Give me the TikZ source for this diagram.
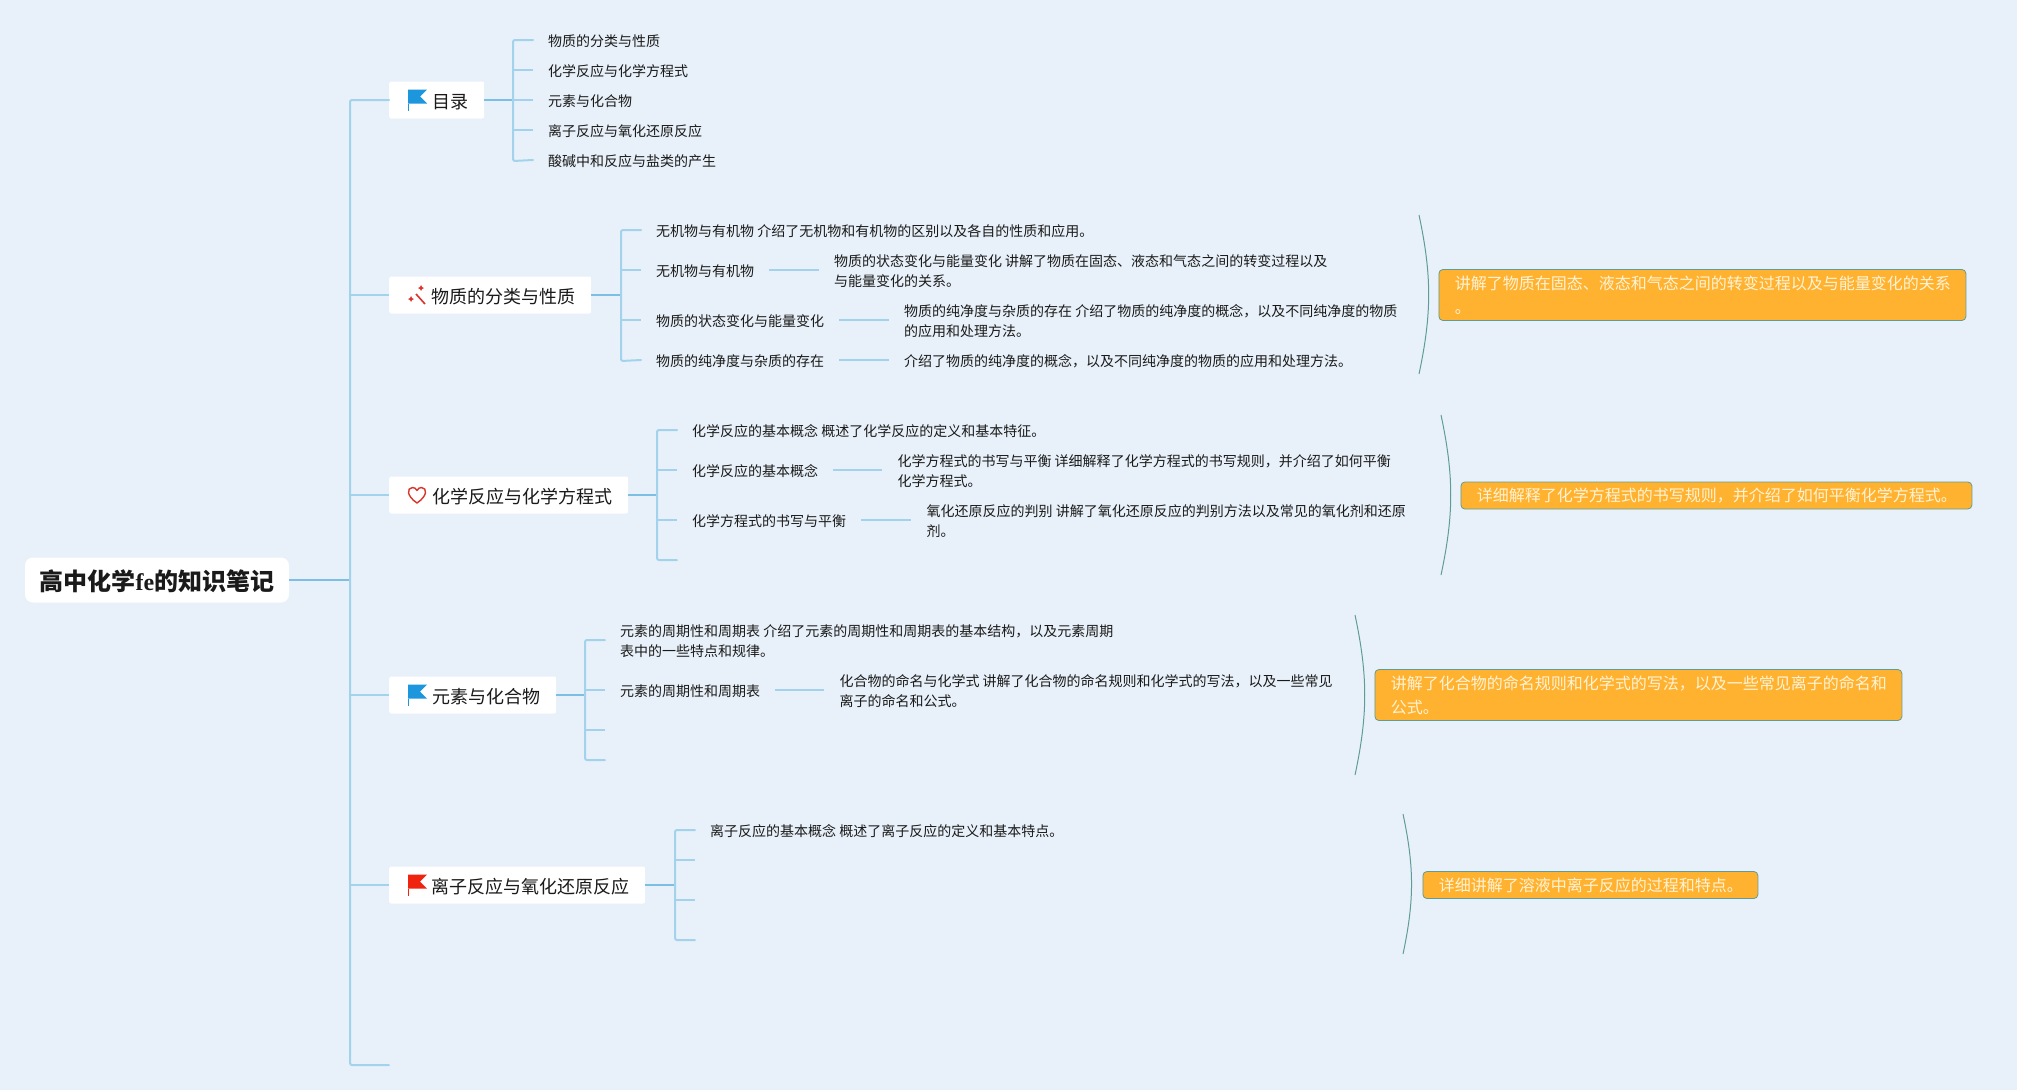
\documentclass[tikz,border=0pt]{standalone}
\usepackage{xcolor}
\usepackage{fontspec}
\setmainfont{Noto Sans CJK SC}
\newfontfamily\latinserif{Liberation Serif}
\usepackage{tikz}
\usetikzlibrary{arrows.meta,positioning,calc}
\definecolor{paper}{HTML}{E8F1F9}
\definecolor{ink}{HTML}{1A1A1A}
\definecolor{wire}{HTML}{A3D3EC}
\definecolor{wiredeep}{HTML}{7DBFE3}
\definecolor{sage}{HTML}{5F9C98}
\definecolor{amber}{HTML}{FFB22F}
\definecolor{cream}{HTML}{FFF3D6}
\definecolor{flagblue}{HTML}{1C96DC}
\definecolor{flagred}{HTML}{F0230F}
\definecolor{wandred}{HTML}{D9352B}
\tikzset{
  rootbox/.style={rectangle, rounded corners=8pt, fill=white, text=ink, inner sep=0pt,
              minimum width=264pt, minimum height=45pt, text height=20pt, text depth=0pt,
              font=\fontsize{24}{30}\selectfont\bfseries},
  topicbox/.style={rectangle, rounded corners=2pt, fill=white, text=ink, anchor=west, inner sep=0pt,
              minimum height=37pt, text height=16pt, text depth=0pt, align=right, font=\fontsize{18}{22}\selectfont},
  leaf/.style={anchor=west, inner sep=0pt, text=ink, align=left, font=\fontsize{14}{20}\selectfont},
  note/.style={rectangle, rounded corners=4pt, draw=sage, fill=amber, line width=0.8pt, text=cream,
              anchor=west, inner sep=0pt, align=left, font=\fontsize{16}{24}\selectfont},
  wirebus/.style={draw=wire, line width=2pt, line cap=round},
  wirefeed/.style={draw=wiredeep, line width=2.6pt},
  twig/.style={draw=wire, line width=2pt},
  hoop/.style={draw=sage, line width=1pt},
  flagicon/.pic={
    \fill[#1] (0,-11) -- (19,-11) -- (12,-4) -- (19,3) -- (0,3) -- cycle;
    \fill[#1] (0,3) rectangle (1.2,10);
  }
}
\begin{document}
\begin{tikzpicture}[x=1pt, y=-1pt]
  \useasboundingbox[fill=paper] (0,0) rectangle (2017,1090);
  % root and topics
  \node[rootbox] (root) at (157,580) {高中化学{\latinserif fe}的知识笔记};
  \node[topicbox, minimum width=95pt, text width=63pt] (toc) at (389,100) {目录};
  \node[topicbox, minimum width=202pt, text width=170pt] (matter) at (389,295) {物质的分类与性质};
  \node[topicbox, minimum width=239pt, text width=207pt] (react) at (389,495) {化学反应与化学方程式};
  \node[topicbox, minimum width=167pt, text width=135pt] (elem) at (389,695) {元素与化合物};
  \node[topicbox, minimum width=256pt, text width=224pt] (ion) at (389,885) {离子反应与氧化还原反应};
  \pic at (408,100.5) {flagicon=flagblue};
  \pic at (408,695.5) {flagicon=flagblue};
  \pic at (408,885.5) {flagicon=flagred};
  % wand
  \draw[wandred, line width=1.6pt] (416,294) -- (425,304);
  \fill[wandred] (421,285) -- (422,287) -- (424,288) -- (422,289) -- (421,291) -- (420,289) -- (418,288) -- (420,287) -- cycle;
  \fill[wandred] (411,296) -- (412,298) -- (414,299) -- (412,300) -- (411,302) -- (410,300) -- (408,299) -- (410,298) -- cycle;
  % heart
  \draw[wandred, line width=1.4pt, line join=round] (417,503) .. controls (406.5,496) and (406.5,488) .. (412.5,487.5) .. controls (414.5,487.5) and (416,488.5) .. (417,490.5) .. controls (418,488.5) and (419.5,487.5) .. (421.5,487.5) .. controls (427.5,488) and (427.5,496) .. (417,503) -- cycle;
  % main trunk
  \coordinate (hub) at (350,580);
  \coordinate (last) at (389,1065);
  \draw[wirefeed] (root.east) -- (hub);
  \draw[wirebus, rounded corners=2pt] (toc.west) -| (hub |- last) -- (last);
  \draw[twig] (hub |- matter.west) -- (matter.west);
  \draw[twig] (hub |- react.west) -- (react.west);
  \draw[twig] (hub |- elem.west) -- (elem.west);
  \draw[twig] (hub |- ion.west) -- (ion.west);
  % table of contents
  \node[leaf] (toca) at (548,41) {物质的分类与性质};
  \node[leaf] (tocb) at (548,71) {化学反应与化学方程式};
  \node[leaf] (tocc) at (548,101) {元素与化合物};
  \node[leaf] (tocd) at (548,131) {离子反应与氧化还原反应};
  \node[leaf] (toce) at (548,161) {酸碱中和反应与盐类的产生};
  \coordinate (tocbus) at (513,100);
  \draw[wirefeed] (toc.east) -- (tocbus);
  \draw[wirebus, rounded corners=2pt] ($(toca.west)+(-15,-1)$) -| (tocbus |- toce) -- ($(toce.west)+(-15,-1)$);
  \draw[twig] (tocbus |- 0,70) -- ($(tocb.west)+(-15,-1)$);
  \draw[twig] (tocbus) -- ($(tocc.west)+(-15,-1)$);
  \draw[twig] (tocbus |- 0,130) -- ($(tocd.west)+(-15,-1)$);
  % matter
  \node[leaf] (mata) at (656,231) {无机物与有机物 介绍了无机物和有机物的区别以及各自的性质和应用。};
  \node[leaf] (matb) at (656,271) {无机物与有机物};
  \node[leaf] (matc) at (656,321) {物质的状态变化与能量变化};
  \node[leaf] (matd) at (656,361) {物质的纯净度与杂质的存在};
  \node[leaf, right=79.5pt of matb] (matbx) {物质的状态变化与能量变化 讲解了物质在固态、液态和气态之间的转变过程以及\\与能量变化的关系。};
  \node[leaf, right=79.5pt of matc] (matcx) {物质的纯净度与杂质的存在 介绍了物质的纯净度的概念，以及不同纯净度的物质\\的应用和处理方法。};
  \node[leaf, right=79.5pt of matd] (matdx) {介绍了物质的纯净度的概念，以及不同纯净度的物质的应用和处理方法。};
  \coordinate (matbus) at (621,295);
  \draw[wirefeed] (matter.east) -- (matbus);
  \draw[wirebus, rounded corners=2pt] ($(mata.west)+(-15,-1)$) -| (matbus |- matd) -- ($(matd.west)+(-15,-1)$);
  \draw[twig] (matbus |- 0,270) -- ($(matb.west)+(-15,-1)$);
  \draw[twig] (matbus |- 0,320) -- ($(matc.west)+(-15,-1)$);
  \draw[twig] ($(matb.east)+(15,-1)$) -- ($(matbx.west)+(-15,-1)$);
  \draw[twig] ($(matc.east)+(15,-1)$) -- ($(matcx.west)+(-15,-1)$);
  \draw[twig] ($(matd.east)+(15,-1)$) -- ($(matdx.west)+(-15,-1)$);
  \coordinate (hoopa) at (1419,215);
  \coordinate (hoopb) at (1419,374);
  \draw[hoop] (hoopa) to[bend left=12] (hoopb);
  \node[note, minimum width=527pt, minimum height=51pt, text width=495pt] (notea) at (1438.5,295) {讲解了物质在固态、液态和气态之间的转变过程以及与能量变化的关系\\。};
  % reactions
  \node[leaf] (reaa) at (692,431) {化学反应的基本概念 概述了化学反应的定义和基本特征。};
  \node[leaf] (reab) at (692,471) {化学反应的基本概念};
  \node[leaf] (reac) at (692,521) {化学方程式的书写与平衡};
  \coordinate (read) at (677,560);
  \node[leaf, right=79pt of reab] (reabx) {化学方程式的书写与平衡 详细解释了化学方程式的书写规则，并介绍了如何平衡\\化学方程式。};
  \node[leaf, right=80pt of reac] (reacx) {氧化还原反应的判别 讲解了氧化还原反应的判别方法以及常见的氧化剂和还原\\剂。};
  \coordinate (reabus) at (657,495);
  \draw[wirefeed] (react.east) -- (reabus);
  \draw[wirebus, rounded corners=2pt] ($(reaa.west)+(-15,-1)$) -| (reabus |- read) -- (read);
  \draw[twig] (reabus |- 0,470) -- ($(reab.west)+(-15,-1)$);
  \draw[twig] (reabus |- 0,520) -- ($(reac.west)+(-15,-1)$);
  \draw[twig] ($(reab.east)+(15,-1)$) -- ($(reabx.west)+(-15,-1)$);
  \draw[twig] ($(reac.east)+(15,-1)$) -- ($(reacx.west)+(-15,-1)$);
  \coordinate (hoopc) at (1441,415);
  \coordinate (hoopd) at (1441,575);
  \draw[hoop] (hoopc) to[bend left=12] (hoopd);
  \node[note, minimum width=511pt, minimum height=27pt, text width=479pt] (noteb) at (1460.5,495.5) {详细解释了化学方程式的书写规则，并介绍了如何平衡化学方程式。};
  % elements
  \node[leaf] (elea) at (620,641) {元素的周期性和周期表 介绍了元素的周期性和周期表的基本结构，以及元素周期\\表中的一些特点和规律。};
  \node[leaf] (eleb) at (620,691) {元素的周期性和周期表};
  \coordinate (elec) at (605,730);
  \coordinate (eled) at (605,760);
  \node[leaf, right=79pt of eleb] (elebx) {化合物的命名与化学式 讲解了化合物的命名规则和化学式的写法，以及一些常见\\离子的命名和公式。};
  \coordinate (elebus) at (585,695);
  \draw[wirefeed] (elem.east) -- (elebus);
  \draw[wirebus, rounded corners=2pt] ($(elea.west)+(-15,-1)$) -| (elebus |- eled) -- (eled);
  \draw[twig] (elebus |- 0,690) -- ($(eleb.west)+(-15,-1)$);
  \draw[twig] (elebus |- elec) -- (elec);
  \draw[twig] ($(eleb.east)+(15,-1)$) -- ($(elebx.west)+(-15,-1)$);
  \coordinate (hoope) at (1355,615);
  \coordinate (hoopf) at (1355,775);
  \draw[hoop] (hoope) to[bend left=12] (hoopf);
  \node[note, minimum width=527pt, minimum height=51pt, text width=495pt] (notec) at (1374.5,695) {讲解了化合物的命名规则和化学式的写法，以及一些常见离子的命名和\\公式。};
  % ions
  \node[leaf] (iona) at (710,831) {离子反应的基本概念 概述了离子反应的定义和基本特点。};
  \coordinate (ionb) at (695,860);
  \coordinate (ionc) at (695,900);
  \coordinate (iond) at (695,940);
  \coordinate (ionbus) at (675,885);
  \draw[wirefeed] (ion.east) -- (ionbus);
  \draw[wirebus, rounded corners=2pt] ($(iona.west)+(-15,-1)$) -| (ionbus |- iond) -- (iond);
  \draw[twig] (ionbus |- ionb) -- (ionb);
  \draw[twig] (ionbus |- ionc) -- (ionc);
  \coordinate (hoopg) at (1403,814);
  \coordinate (hooph) at (1403,954);
  \draw[hoop] (hoopg) to[bend left=12] (hooph);
  \node[note, minimum width=335pt, minimum height=27pt, text width=303pt] (noted) at (1422.5,885) {详细讲解了溶液中离子反应的过程和特点。};
\end{tikzpicture}
\end{document}
